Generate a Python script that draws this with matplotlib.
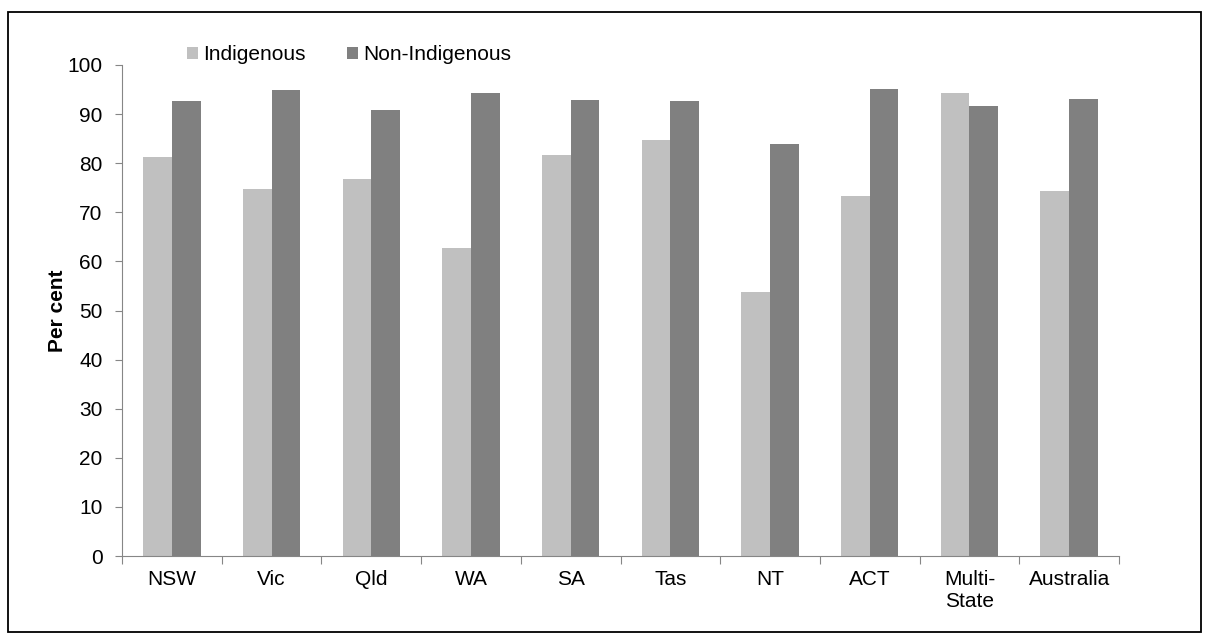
import numpy as np
import matplotlib
matplotlib.use('Agg')
import matplotlib.pyplot as plt
from matplotlib.patches import Rectangle

plt.rcParams['font.family'] = ['Liberation Sans', 'DejaVu Sans']

categories = ['NSW', 'Vic', 'Qld', 'WA', 'SA', 'Tas', 'NT', 'ACT', 'Multi-\nState', 'Australia']
indigenous = [81.2, 74.8, 76.8, 62.7, 81.6, 84.8, 53.7, 73.3, 94.2, 74.3]
non_indigenous = [92.6, 94.9, 90.9, 94.2, 92.8, 92.7, 84.0, 95.1, 91.7, 93.0]
yticks = list(range(0, 101, 10))

LIGHT = '#c0c0c0'
DARK = '#808080'
AXCOL = '#868686'
FS = 15

W, H = 1208, 640
fig = plt.figure(figsize=(W/100, H/100), dpi=100)
ax = fig.add_axes([122/W, 1 - 556/H, (1119-122)/W, (556-65)/H])

x = np.arange(len(categories))
w = 0.288
ax.bar(x - w/2, indigenous, w, color=LIGHT, label='Indigenous')
ax.bar(x + w/2, non_indigenous, w, color=DARK, label='Non-Indigenous')

ax.set_xlim(-0.5, len(categories) - 0.5)
ax.set_ylim(0, 100)
ax.set_yticks(yticks)
ax.tick_params(axis='y', labelsize=FS, length=5, color=AXCOL, direction='out', pad=9)
# category boundaries get the tick marks, names sit between them
ax.set_xticks(np.arange(-0.5, len(categories), 1.0))
ax.set_xticklabels([])
ax.set_xticks(x, minor=True)
ax.set_xticklabels(categories, minor=True, fontsize=FS, linespacing=1.2)
ax.tick_params(axis='x', which='major', length=6, color=AXCOL, direction='out')
ax.tick_params(axis='x', which='minor', length=0, pad=10)
for s in ['top', 'right']:
    ax.spines[s].set_visible(False)
for s in ['left', 'bottom']:
    ax.spines[s].set_color(AXCOL)
ax.set_ylabel('Per cent', fontsize=FS, fontweight='bold')
ax.yaxis.set_label_coords((67-122)/(1119-122), 0.5)

fig.legend(loc='center left', bbox_to_anchor=(187/W, 1 - 55/H), ncol=2, frameon=False,
           fontsize=FS, handlelength=0.53, handleheight=0.53, handletextpad=0.24,
           columnspacing=2.0, borderpad=0, borderaxespad=0)

fig.patches.append(Rectangle((8/W, 1 - 632/H), (1201-8)/W, (632-12)/H,
                             transform=fig.transFigure, fill=False,
                             edgecolor='black', linewidth=1.3))

fig.savefig('out.png', dpi=100)
